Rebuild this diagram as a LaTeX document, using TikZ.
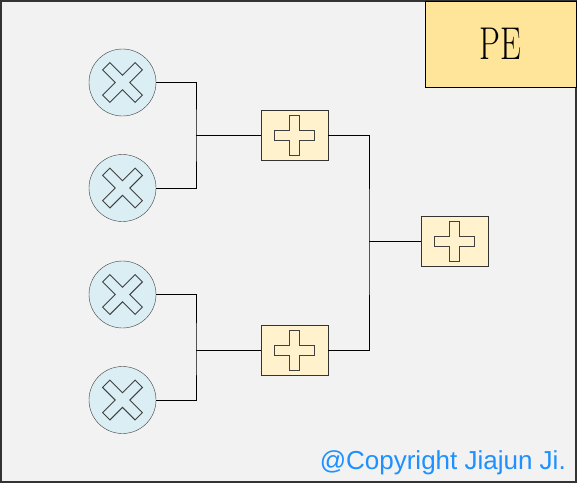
\documentclass[tikz,border=0pt]{standalone}
\usepackage{fontspec}
\newfontfamily\copyfont{Liberation Sans}
\usepackage{tikz}
\usetikzlibrary{calc, positioning}
\definecolor{pebg}{HTML}{F2F2F2}
\definecolor{peyellow}{HTML}{FFE599}
\definecolor{addyellow}{HTML}{FFF2CC}
\definecolor{multblue}{HTML}{DAEEF3}
\definecolor{copyblue}{RGB}{30,144,255}
\tikzset{
	mult/.style={circle, draw=black!75, fill=multblue, minimum size=67pt, inner sep=0pt},
	adder/.style={rectangle, draw=black!80, fill=addyellow, minimum width=67pt, minimum height=50pt, inner sep=0pt},
	wire/.style={line width=1pt, black},
	icon/.style={draw=black!75, line width=0.9pt, line join=miter},
	iconshadow/.style={draw=black!25, line width=0.9pt}
}
% outlined cross inside a node: #1 node, #2 angle, #3 half length, #4 half width, #5 style
\newcommand{\crossmark}[5]{
	\draw[#5, shift={(#1.center)}, rotate=#2]
		(-#4,-#3) -- (#4,-#3) -- (#4,-#4) -- (#3,-#4) -- (#3,#4) -- (#4,#4) -- (#4,#3)
		-- (-#4,#3) -- (-#4,#4) -- (-#3,#4) -- (-#3,-#4) -- (-#4,-#4) -- cycle;
}

\begin{document}
\begin{tikzpicture}[x=1pt, y=-1pt]
	\useasboundingbox (0,0) rectangle (577,483);
	\draw[fill=pebg, draw=black!80, line width=1.5pt] (1,1) rectangle (576,482);
	\node[draw=black, line width=1pt, fill=peyellow, minimum width=151pt, minimum height=86pt, inner sep=0pt] (pe) at (500.5,44) {\scalebox{0.72}[1]{\fontsize{46}{46}\selectfont PE}};

	% multipliers
	\node[mult] (m1) at (122.5,82.5) {};
	\node[mult] (m2) at (122.5,188) {};
	\node[mult] (m3) at (122.5,294.5) {};
	\node[mult] (m4) at (122.5,400) {};
	% adders
	\node[adder] (a1) at (294.5,135.5) {};
	\node[adder] (a2) at (294.5,350.5) {};
	\node[adder] (a3) at (454.5,241) {};

	\coordinate (j1) at (196,135.5);
	\coordinate (j2) at (196,350.5);
	\coordinate (j3) at (369,241);

	\draw[wire] (m1.east) -| (j1) |- (m2.east);
	\draw[wire] (j1) -- (a1.west);
	\draw[wire] (m3.east) -| (j2) |- (m4.east);
	\draw[wire] (j2) -- (a2.west);
	\draw[wire] (a1.east) -| (j3) |- (a2.east);
	\draw[wire] (j3) -- (a3.west);

	\foreach \m in {m1,m2,m3,m4}{
		\crossmark{\m}{45}{23}{5.2}{icon}
	}
	\foreach \a in {a1,a2,a3}{
		\begin{scope}[shift={(1,1)}]
			\crossmark{\a}{0}{20}{5}{iconshadow}
		\end{scope}
		\crossmark{\a}{0}{20}{5}{icon}
	}

	\node[anchor=base east, inner sep=0pt, text=copyblue] (copy) at (566,469) {\copyfont\fontsize{26}{26}\selectfont @Copyright Jiajun Ji.};
\end{tikzpicture}
\end{document}
